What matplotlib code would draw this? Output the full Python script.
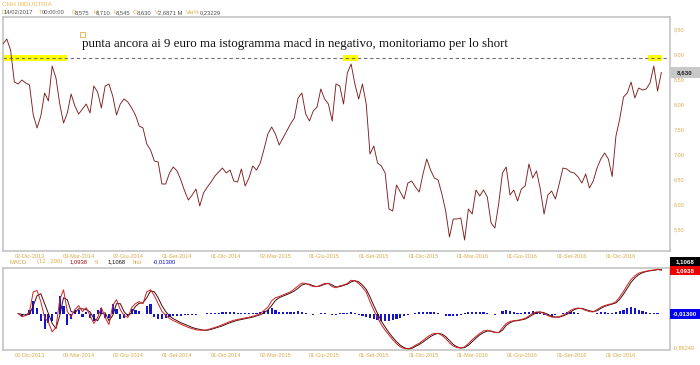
import matplotlib
matplotlib.use('Agg')
import matplotlib.pyplot as plt
from matplotlib.patches import Rectangle
from matplotlib.ticker import FuncFormatter
import pandas as pd

# CNH Industrial, weekly closes (Oct 2013 - Feb 2017)
close = [
    9.20, 9.30, 9.08, 8.44, 8.40, 8.48, 8.42, 8.38, 7.78, 7.52,
    7.76, 8.22, 8.06, 8.76, 8.52, 8.00, 7.62, 7.82, 8.20, 7.96,
    7.80, 7.90, 8.00, 7.82, 8.36, 8.24, 7.92, 8.36, 8.40, 8.16,
    7.78, 8.00, 8.10, 8.04, 7.92, 7.78, 7.56, 7.52, 7.20, 7.08,
    6.86, 6.84, 6.40, 6.40, 6.62, 6.74, 6.66, 6.48, 6.26, 6.08,
    6.18, 6.30, 5.96, 6.22, 6.34, 6.44, 6.56, 6.64, 6.72, 6.62,
    6.68, 6.46, 6.44, 6.70, 6.36, 6.52, 6.76, 6.68, 6.82, 7.10,
    7.40, 7.54, 7.40, 7.18, 7.32, 7.46, 7.60, 7.72, 8.12, 8.22,
    7.80, 7.66, 7.86, 7.94, 8.30, 8.10, 8.00, 7.66, 8.40, 8.36,
    8.00, 8.62, 8.80, 8.40, 8.10, 8.40, 8.00, 7.00, 7.16, 6.82,
    6.76, 6.62, 5.90, 5.86, 6.38, 6.24, 6.10, 6.42, 6.46, 6.34,
    6.24, 6.60, 6.90, 6.68, 6.52, 6.48, 6.20, 5.86, 5.34, 5.70,
    5.70, 5.72, 5.28, 5.90, 5.80, 6.28, 6.16, 6.28, 6.14, 5.62,
    5.52, 6.00, 6.62, 6.74, 6.18, 6.28, 6.06, 6.30, 6.36, 6.80,
    6.52, 6.66, 6.30, 5.80, 6.18, 6.26, 6.10, 6.40, 6.72, 6.70,
    6.64, 6.62, 6.54, 6.42, 6.60, 6.32, 6.46, 6.72, 6.90, 7.02,
    6.90, 6.55, 7.36, 7.70, 8.14, 8.22, 8.44, 8.12, 8.32, 8.28,
    8.30, 8.42, 8.76, 8.26, 8.63,
]

# MACD (12, 200), signal 9 and histogram, starting from the 5th week
macd = [
    0.00, -0.08, -0.05, 0.05, 0.55, 0.58, 0.30, -0.10, -0.22, -0.46,
    -0.35, 0.35, 0.60, 0.05, -0.08, 0.10, 0.20, 0.05, 0.15, -0.05,
    -0.25, -0.10, 0.15, -0.10, -0.28, 0.20, 0.35, 0.10, -0.05, -0.10,
    0.15, 0.25, 0.30, 0.25, 0.55, 0.60, 0.45, 0.25, 0.06, -0.05,
    -0.12, -0.18, -0.22, -0.27, -0.31, -0.35, -0.38, -0.41, -0.42, -0.42,
    -0.41, -0.38, -0.35, -0.32, -0.28, -0.24, -0.20, -0.17, -0.15, -0.13,
    -0.11, -0.09, -0.07, -0.04, 0.00, 0.08, 0.16, 0.32, 0.40, 0.43,
    0.47, 0.51, 0.55, 0.62, 0.70, 0.77, 0.76, 0.72, 0.68, 0.68,
    0.72, 0.76, 0.76, 0.68, 0.65, 0.70, 0.72, 0.76, 0.84, 0.83,
    0.76, 0.66, 0.54, 0.30, 0.08, -0.10, -0.28, -0.42, -0.54, -0.66,
    -0.76, -0.84, -0.88, -0.89, -0.86, -0.80, -0.75, -0.68, -0.60, -0.54,
    -0.50, -0.50, -0.55, -0.63, -0.74, -0.82, -0.86, -0.87, -0.84, -0.76,
    -0.66, -0.58, -0.50, -0.44, -0.42, -0.45, -0.48, -0.48, -0.36, -0.25,
    -0.20, -0.18, -0.17, -0.15, -0.12, -0.06, 0.01, 0.04, 0.04, 0.00,
    -0.05, -0.09, -0.09, -0.08, -0.04, 0.01, 0.08, 0.12, 0.14, 0.12,
    0.08, 0.05, 0.04, 0.10, 0.16, 0.20, 0.23, 0.25, 0.30, 0.42,
    0.56, 0.72, 0.86, 0.95, 1.02, 1.05, 1.07, 1.09, 1.10, 1.12,
    1.09,
]
signal = [
    0.00, -0.02, -0.04, -0.02, 0.20, 0.45, 0.50, 0.25, 0.00, -0.25,
    -0.38, -0.05, 0.40, 0.35, 0.05, 0.02, 0.12, 0.12, 0.10, 0.04,
    -0.12, -0.18, 0.00, 0.02, -0.18, -0.05, 0.25, 0.25, 0.05, -0.06,
    0.02, 0.18, 0.26, 0.27, 0.40, 0.57, 0.55, 0.40, 0.20, 0.05,
    -0.06, -0.13, -0.18, -0.23, -0.27, -0.31, -0.35, -0.38, -0.40, -0.42,
    -0.42, -0.40, -0.37, -0.34, -0.31, -0.27, -0.23, -0.20, -0.17, -0.15,
    -0.13, -0.11, -0.09, -0.06, -0.03, 0.02, 0.09, 0.20, 0.33, 0.40,
    0.44, 0.48, 0.52, 0.57, 0.64, 0.72, 0.75, 0.74, 0.70, 0.68,
    0.70, 0.74, 0.76, 0.72, 0.67, 0.68, 0.71, 0.74, 0.80, 0.83,
    0.80, 0.72, 0.61, 0.42, 0.20, 0.00, -0.19, -0.34, -0.48, -0.60,
    -0.71, -0.80, -0.86, -0.89, -0.88, -0.83, -0.78, -0.72, -0.65, -0.58,
    -0.53, -0.50, -0.52, -0.58, -0.68, -0.78, -0.84, -0.87, -0.86, -0.80,
    -0.71, -0.62, -0.54, -0.48, -0.44, -0.44, -0.47, -0.48, -0.42, -0.30,
    -0.23, -0.19, -0.18, -0.16, -0.14, -0.09, -0.03, 0.02, 0.04, 0.02,
    -0.02, -0.07, -0.09, -0.09, -0.06, -0.02, 0.04, 0.10, 0.13, 0.13,
    0.10, 0.07, 0.05, 0.07, 0.13, 0.18, 0.21, 0.24, 0.27, 0.36,
    0.49, 0.64, 0.79, 0.90, 0.98, 1.03, 1.06, 1.08, 1.09, 1.11,
    1.11,
]
hist = [
    0.00, -0.06, -0.04, 0.08, 0.32, 0.15, -0.20, -0.38, -0.25, -0.20,
    0.05, 0.45, 0.20, -0.28, -0.15, 0.08, 0.10, -0.08, 0.05, -0.10,
    -0.18, 0.08, 0.15, -0.12, -0.10, 0.25, 0.12, -0.15, -0.12, -0.06,
    0.12, 0.10, 0.06, -0.02, 0.18, 0.25, -0.08, -0.15, -0.14, -0.11,
    -0.08, -0.06, -0.05, -0.05, -0.04, -0.04, -0.03, -0.03, -0.02, -0.01,
    0.01, 0.02, 0.02, 0.02, 0.03, 0.03, 0.03, 0.03, 0.02, 0.02,
    0.02, 0.02, 0.02, 0.02, 0.03, 0.06, 0.10, 0.14, 0.10, 0.05,
    0.03, 0.03, 0.03, 0.04, 0.06, 0.05, 0.01, -0.02, -0.03, 0.00,
    0.02, 0.02, 0.00, -0.04, -0.03, 0.02, 0.01, 0.02, 0.04, 0.01,
    -0.04, -0.06, -0.08, -0.12, -0.14, -0.16, -0.18, -0.19, -0.18, -0.16,
    -0.14, -0.10, -0.06, -0.03, -0.01, 0.02, 0.03, 0.04, 0.05, 0.04,
    0.03, 0.01, -0.02, -0.05, -0.06, -0.06, -0.05, -0.04, 0.01, 0.04,
    0.05, 0.05, 0.05, 0.04, 0.02, -0.01, -0.03, -0.02, 0.07, 0.09,
    0.06, 0.03, 0.02, 0.02, 0.03, 0.05, 0.06, 0.04, 0.01, -0.03,
    -0.05, -0.05, -0.04, -0.02, 0.01, 0.03, 0.04, 0.03, 0.02, -0.01,
    -0.02, -0.02, -0.01, 0.02, 0.03, 0.03, 0.02, 0.01, 0.04, 0.07,
    0.10, 0.15, 0.16, 0.15, 0.10, 0.07, 0.05, 0.02, 0.01, 0.01,
    -0.013,
]

tick_dates = ['2013-12-02', '2014-03-03', '2014-06-02', '2014-09-01', '2014-12-01',
              '2015-03-02', '2015-06-01', '2015-09-01', '2015-12-01', '2016-03-01',
              '2016-06-01', '2016-09-01', '2016-12-01']
tick_labels = ['02-Dic-2013', '03-Mar-2014', '02-Giu-2014', '01-Set-2014', '01-Dic-2014',
               '02-Mar-2015', '01-Giu-2015', '01-Set-2015', '01-Dic-2015', '01-Mar-2016',
               '01-Giu-2016', '01-Set-2016', '01-Dic-2016']
price_ticks = [5.5, 6.0, 6.5, 7.0, 7.5, 8.0, 8.5, 9.0, 9.5]

level = 8.92            # resistance near 9 euro
highlights = [('2013-10-14', '2014-02-09'), ('2015-07-05', '2015-08-02'),
              ('2017-01-20', '2017-02-15')]

dates = pd.date_range('2013-10-14', periods=len(close), freq='7D')
mdates_ = dates[len(close) - len(macd):]

GOLD = '#d9ab4c'
BORDER = '#c4c4c4'
SANS = 'Liberation Sans'
W, H = 700, 365


def px(x, y):
    return x / W, 1 - y / H


fig = plt.figure(figsize=(7, 3.65), dpi=100)
ax1 = fig.add_axes([3 / W, 1 - 251 / H, 667 / W, 234 / H])
ax2 = fig.add_axes([3 / W, 1 - 350 / H, 667 / W, 82 / H], sharex=ax1)

# price panel
for d0, d1 in highlights:
    ax1.fill_between(pd.to_datetime([d0, d1]), level - 0.06, level + 0.06,
                     color='#ffff00', lw=0, zorder=1)
ax1.axhline(level, color='#6e6e6e', lw=0.8, ls=(0, (3, 2.5)), zorder=2)
ax1.plot(dates, close, color='#7d1f1f', lw=0.65, zorder=3)
ax1.set_ylim(5.06, 9.74)
ax1.set_xlim(pd.Timestamp('2013-10-14'), pd.Timestamp('2017-03-01'))
ax1.yaxis.tick_right()
ax1.set_yticks(price_ticks)
ax1.yaxis.set_major_formatter(FuncFormatter(lambda v, p: f'{v:.2f}'.replace('.', ',')))

# MACD panel
ax2.bar(mdates_, hist, width=4, color='#1515d0', zorder=2)
ax2.plot(mdates_, signal, color='#3a1010', lw=0.7, zorder=3)
ax2.plot(mdates_, macd, color='#d42020', lw=0.7, zorder=4)
ax2.set_ylim(-0.92, 1.15)
ax2.set_yticks([])

for ax in (ax1, ax2):
    ax.set_xticks(pd.to_datetime(tick_dates))
    ax.set_xticklabels(tick_labels)
    ax.tick_params(axis='both', length=0, labelsize=4, labelcolor=GOLD, pad=2)
    for lab in ax.get_xticklabels() + ax.get_yticklabels():
        lab.set_family(SANS)
    for s in ax.spines.values():
        s.set_color(BORDER)
        s.set_linewidth(1.2)
ax1.tick_params(axis='y', pad=3)

# header
fig.text(*px(2, 5), 'CNH INDUSTRIA', fontsize=4.6, color='#f0b850', family=SANS, va='center')
header = [(1, 'D', GOLD), (4, '14/02/2017', '#505050'), (39, 'T', GOLD), (42, '00:00:00', '#505050'),
          (72, 'O', GOLD), (75, '8,575', '#505050'), (93, 'H', GOLD), (96, '8,710', '#505050'),
          (113, 'L', GOLD), (116, '8,545', '#505050'), (133, 'C', GOLD), (137, '8,630', '#505050'),
          (155, 'V', GOLD), (158, '2,6871 M', '#505050'), (186, 'Var%', GOLD), (200, '0,23229', '#505050')]
for x, s, c in header:
    fig.text(*px(x, 13), s, fontsize=4.2, color=c, family=SANS, va='center')

# comment on the chart
fig.patches.append(Rectangle(px(80, 37), 5 / W, 5 / H, transform=fig.transFigure,
                             fill=False, edgecolor='#e0b040', lw=0.6))
fig.text(*px(82, 44), 'punta ancora ai 9 euro ma istogramma macd in negativo, monitoriamo per lo short',
         fontsize=9.4, family='Liberation Serif', color='#111111', va='center')

# MACD legend strip
strip = [(10, 'MACD', GOLD), (37, '(12 , 200)', GOLD), (70, '1,0938', '#9a1010'), (95, '9', GOLD),
         (108, '1,1068', '#111111'), (133, 'hist', GOLD), (153, '-0,01300', '#1010c0')]
for x, s, c in strip:
    fig.text(*px(x, 262), s, fontsize=4.2, color=c, family=SANS, va='center')

# value boxes on the right
boxes = [(67, 78, '#c8c8c8', '8,630', '#202020'), (257, 266, '#000000', '1,1068', 'white'),
         (266, 275, '#ee0000', '1,0938', 'white'), (309, 319, '#0000ee', '-0,01300', 'white')]
for y0, y1, fc, s, tc in boxes:
    fig.patches.append(Rectangle(px(670, y1), 30 / W, (y1 - y0) / H, transform=fig.transFigure,
                                 facecolor=fc, edgecolor='none'))
    fig.text(*px(685, (y0 + y1) / 2), s, fontsize=4.4, color=tc, family=SANS,
             ha='center', va='center', fontweight='bold')
fig.text(*px(673, 348), '-0,86249', fontsize=4, color=GOLD, family=SANS, va='center')

fig.savefig('out.png', dpi=100)
